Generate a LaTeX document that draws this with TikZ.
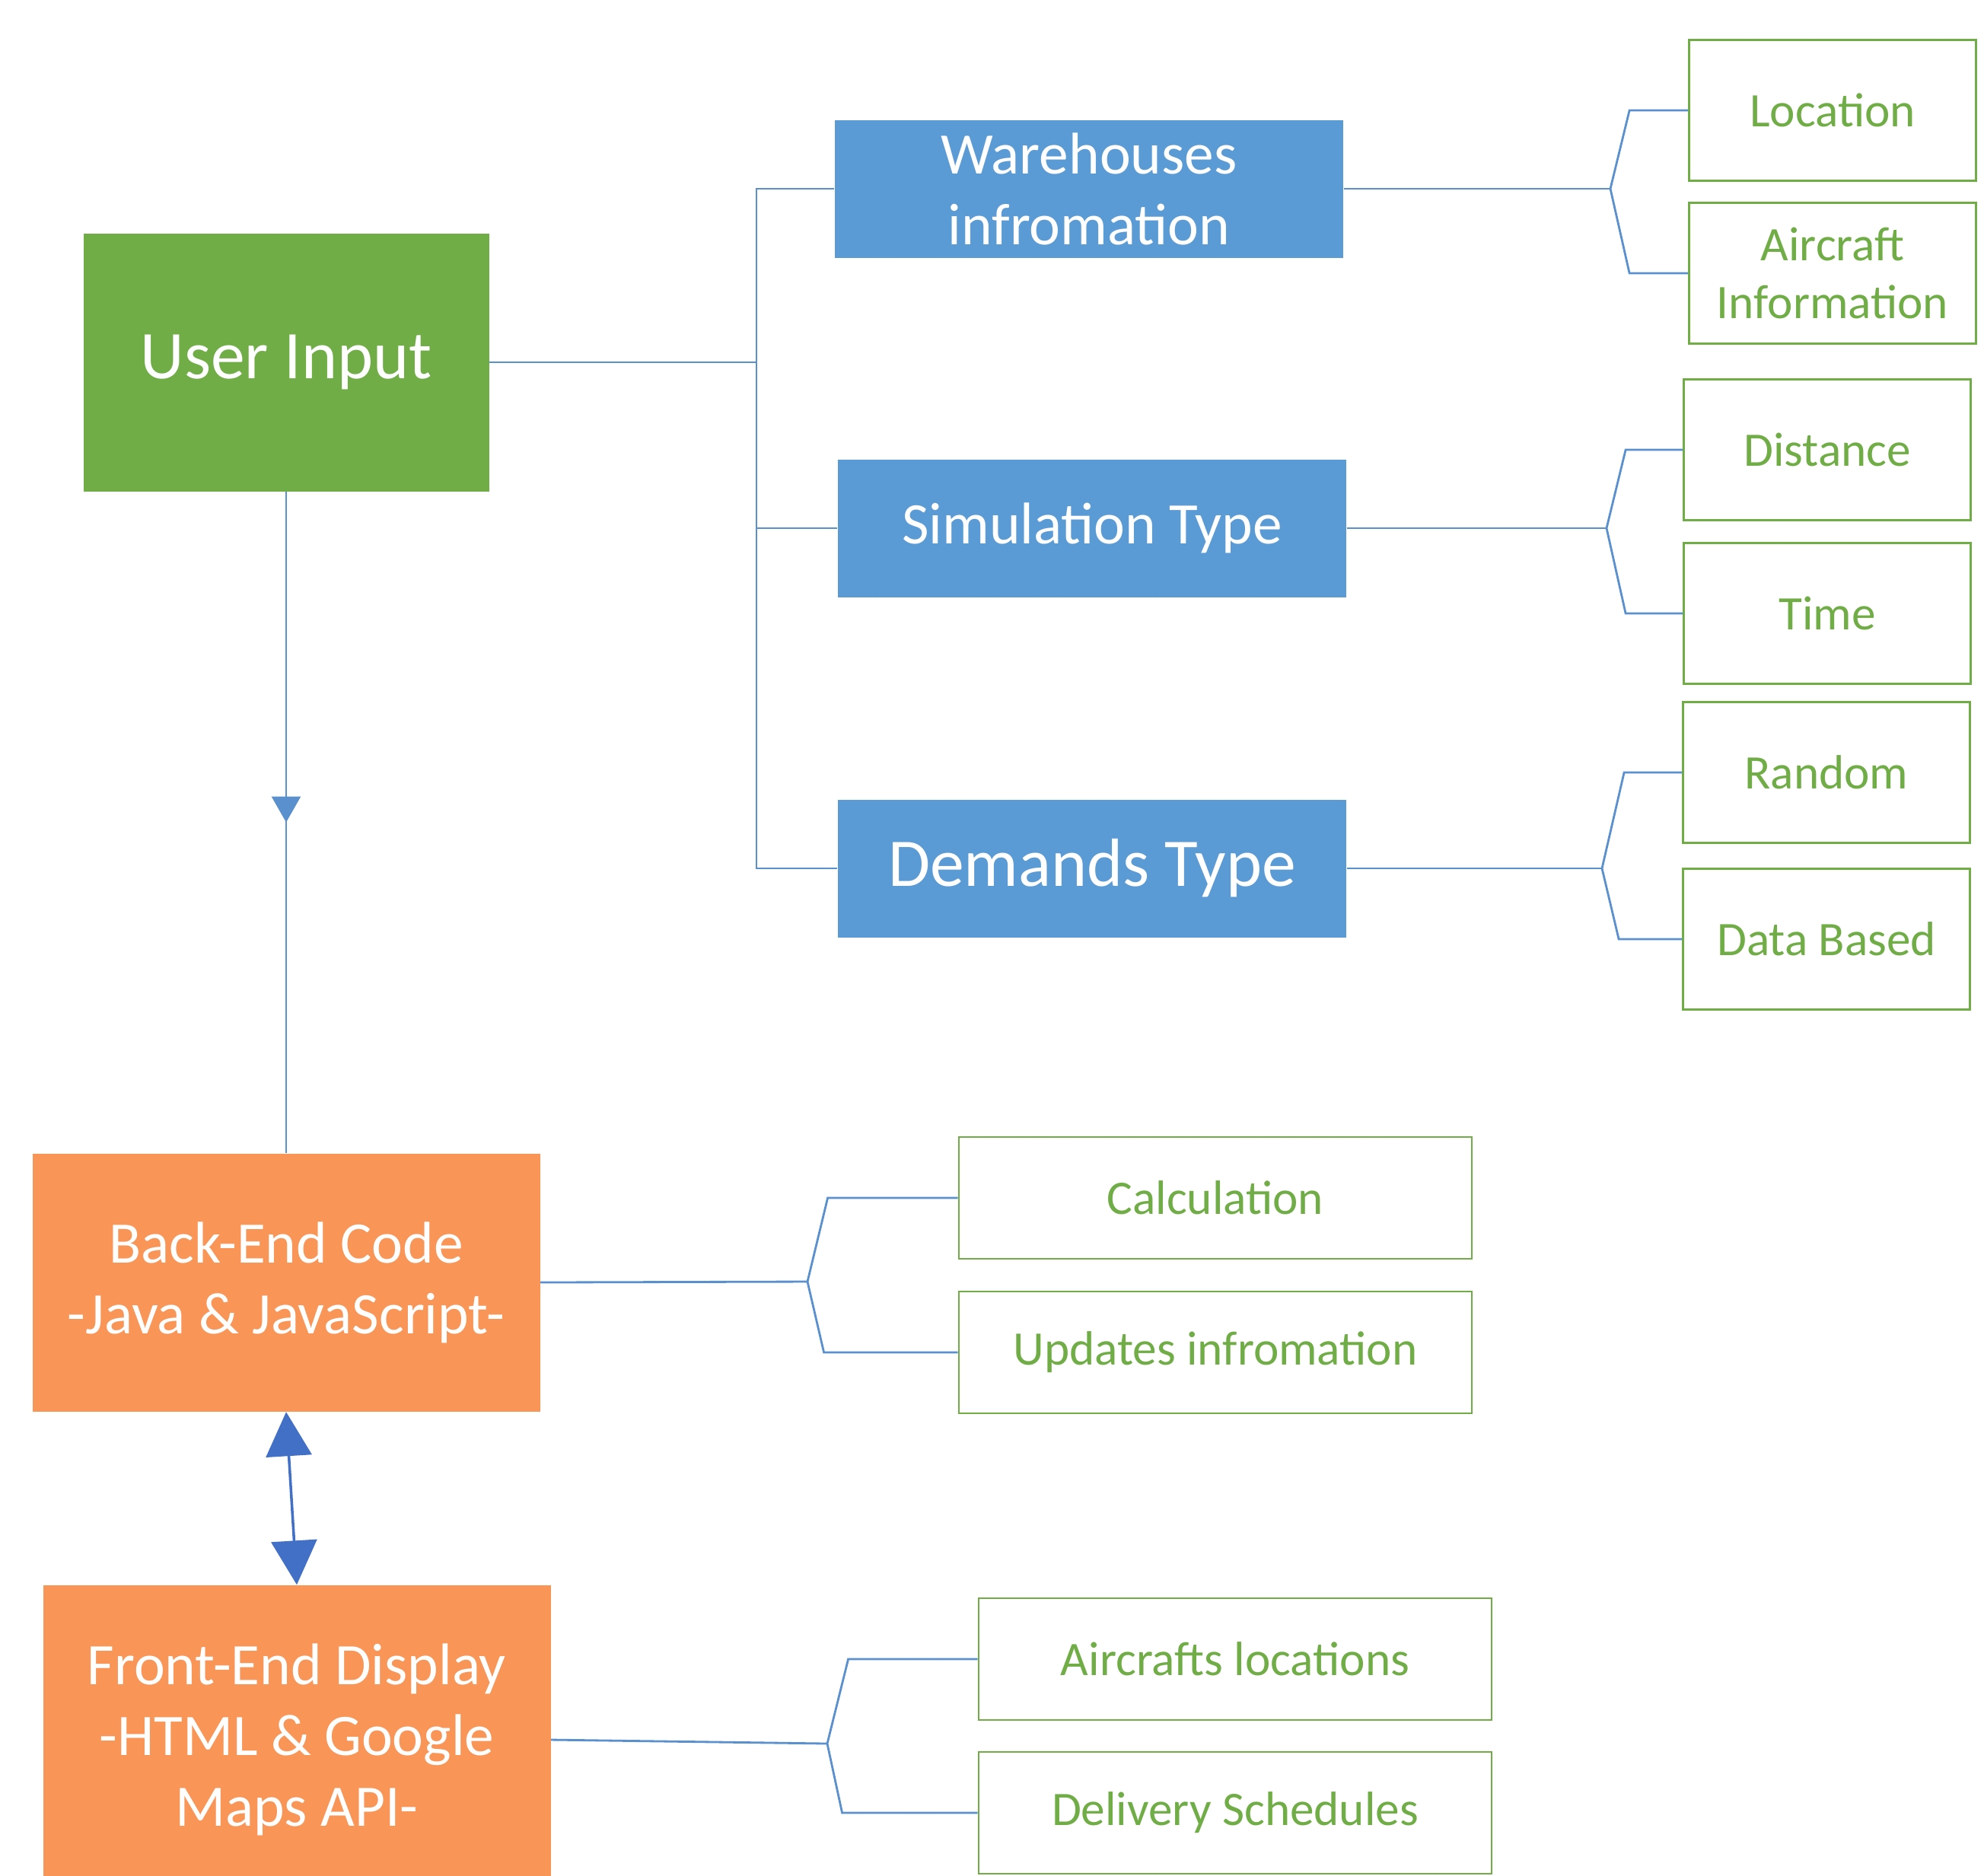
\documentclass[tikz,border=0pt]{standalone}
\usepackage{fontspec}
\setmainfont{Carlito}
\usetikzlibrary{arrows.meta,decorations.markings}

\definecolor{inputgreen}{HTML}{70AD47}
\definecolor{catblue}{HTML}{5B9BD5}
\definecolor{linkblue}{HTML}{5A90CE}
\definecolor{codeorange}{HTML}{F99556}
\definecolor{arrowblue}{HTML}{4270C6}

\tikzset{
  inbox/.style={rectangle, fill=inputgreen, text=white, minimum width=5.33cm, minimum height=3.39cm, font=\fontsize{25.5}{30}\selectfont},
  catbox/.style={rectangle, fill=catblue, text=white, align=center, minimum width=6.68cm, minimum height=1.81cm, font=\fontsize{22}{26.5}\selectfont},
  codebox/.style={rectangle, fill=codeorange, text=white, align=center, minimum width=6.67cm, font=\fontsize{22}{26.5}\selectfont},
  detail/.style={rectangle, draw=inputgreen, line width=0.8pt, text=inputgreen, align=center, font=\fontsize{18}{21.5}\selectfont},
  subbox/.style={detail, minimum width=3.77cm, minimum height=1.85cm},
  taskbox/.style={detail, minimum width=6.74cm, minimum height=1.6cm},
  link/.style={draw=linkblue, line width=0.8pt},
}

\begin{document}
\begin{tikzpicture}
	\path[use as bounding box, clip] (0,0) rectangle (26.07,-24.64);

	% left column
	\node[inbox] (user) at (3.76,-4.76) {User Input};
	\node[codebox, minimum height=3.39cm] (back) at (3.76,-16.85) {Back-End Code\\-Java \& JavaScript-};
	\node[codebox, minimum height=4.06cm] (front) at (3.90,-22.86) {Front-End Display\\-HTML \& Google\\Maps API-};

	% input categories
	\node[catbox] (ware) at (14.31,-2.48) {Warehouses\\infromation};
	\node[catbox] (sim) at (14.35,-6.94) {Simulation Type};
	\node[catbox, font=\fontsize{25.5}{30}\selectfont] (dem) at (14.35,-11.41) {Demands Type};

	% options of each category
	\node[subbox] (loc) at (24.08,-1.45) {Location};
	\node[subbox] (acinfo) at (24.08,-3.59) {Aircraft\\Information};
	\node[subbox] (dist) at (24.01,-5.91) {Distance};
	\node[subbox] (time) at (24.01,-8.06) {Time};
	\node[subbox] (rand) at (24.00,-10.15) {Random};
	\node[subbox] (data) at (24.00,-12.34) {Data Based};

	% code tasks
	\node[taskbox] (calc) at (15.97,-15.74) {Calculation};
	\node[taskbox] (upd) at (15.97,-17.77) {Updates infromation};
	\node[taskbox] (aloc) at (16.23,-21.80) {Aircrafts locations};
	\node[taskbox] (deliv) at (16.23,-23.82) {Delivery Schedules};

	% tree from the input box
	\draw[link] (user.east) -- (9.94,-4.76) coordinate (trunk);
	\draw[link] (ware.west) -| (trunk) |- (dem.west);
	\draw[link] (sim.west) -- (sim.west -| trunk);

	% forks
	\coordinate (jw) at (21.16,-2.48);
	\coordinate (js) at (21.11,-6.94);
	\coordinate (jd) at (21.05,-11.41);
	\coordinate (jb) at (10.61,-16.84);
	\coordinate (jf) at (10.87,-22.91);
	\draw[link] (ware.east) -- (jw);
	\draw[link] (loc.west) -- ++(-0.77,0) -- (jw) -- ([xshift=-0.77cm]acinfo.west) -- (acinfo.west);
	\draw[link] (sim.east) -- (js);
	\draw[link] (dist.west) -- ++(-0.75,0) -- (js) -- ([xshift=-0.75cm]time.west) -- (time.west);
	\draw[link] (dem.east) -- (jd);
	\draw[link] (rand.west) -- ++(-0.76,0) -- (jd) -- ([xshift=-0.83cm]data.west) -- (data.west);
	\draw[link] (back.east) -- (jb);
	\draw[link] (calc.west) -- ++(-1.71,0) -- (jb) -- ([xshift=-1.76cm]upd.west) -- (upd.west);
	\draw[link] (front.east) -- (jf);
	\draw[link] (aloc.west) -- ++(-1.70,0) -- (jf) -- ([xshift=-1.78cm]deliv.west) -- (deliv.west);

	% data flow between the parts
	\draw[link, postaction={decorate}, decoration={markings, mark=at position 0.5 with {\arrow{Triangle[width=0.38cm,length=0.34cm]}}}] (user.south) -- (back.north);
	\draw[arrowblue, line width=1pt, {Triangle[width=0.6cm,length=0.58cm]}-{Triangle[width=0.6cm,length=0.58cm]}] (back.south) -- (front.north);
\end{tikzpicture}
\end{document}
